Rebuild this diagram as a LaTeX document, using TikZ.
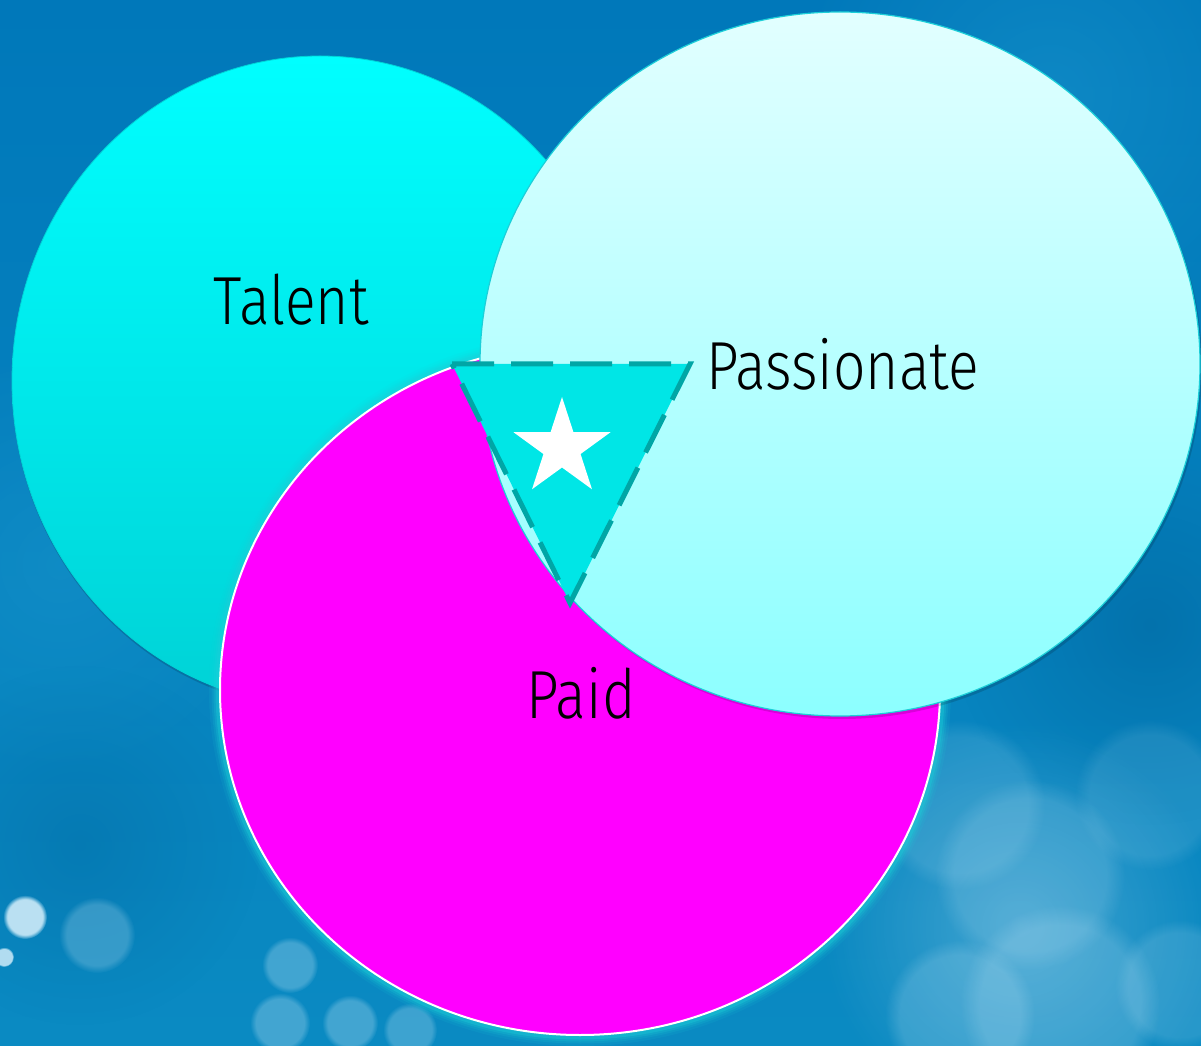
\documentclass[tikz,border=0pt]{standalone}
\usepackage{fontspec}
\setmainfont{Fira Sans Light}[FakeStretch=0.84]
\usetikzlibrary{shapes.geometric,calc,fadings}
\definecolor{bgtop}{HTML}{0078BA}
\definecolor{bgbot}{HTML}{0A8AC2}
\definecolor{bglight}{HTML}{1E9AD0}
\definecolor{bgdark}{HTML}{005E96}
\definecolor{talenttop}{HTML}{00FFFF}
\definecolor{talentbot}{HTML}{00D2D6}
\definecolor{passtop}{HTML}{E2FFFF}
\definecolor{passbot}{HTML}{8CFFFF}
\definecolor{paid}{HTML}{FF00FF}
\definecolor{tri}{HTML}{00E6E6}
\definecolor{tridash}{HTML}{00A6A6}
\definecolor{rim}{HTML}{1CCFD8}
\definecolor{bokeh}{HTML}{C4E6F6}
\tikzfading[name=softdisc, inner color=transparent!0, outer color=transparent!100]
\tikzset{
  x=1pt, y=1pt,
  disc/.style={ellipse, inner sep=0pt, outer sep=0pt},
  label text/.style={font=\fontsize{68}{70}\selectfont, text=black, inner sep=0pt},
  blob/.style={fill=bokeh, draw=none, path fading=circle with fuzzy edge 20 percent},
  haze/.style={draw=none, path fading=softdisc},
}
\begin{document}
\begin{tikzpicture}
  % background
  \useasboundingbox (0,0) rectangle (1201,1045);
  \shade[top color=bgtop, bottom color=bgbot] (0,0) rectangle (1201,1045);
  \fill[haze, bglight, opacity=0.45] (1050,950) circle (260);
  \fill[haze, bglight, opacity=0.40] (60,480) circle (220);
  \fill[haze, bgdark, opacity=0.45] (1150,420) circle (200);
  \fill[haze, bgdark, opacity=0.30] (80,200) circle (180);
  \fill[haze, bokeh, opacity=0.30] (1020,120) circle (200);
  % bokeh lights
  \fill[blob, opacity=0.95] (25,128) circle (22);
  \fill[blob, opacity=0.9] (4,88) circle (10);
  \fill[blob, opacity=0.25] (97,110) circle (38);
  \fill[blob, opacity=0.30] (290,80) circle (28);
  \fill[blob, opacity=0.30] (280,22) circle (30);
  \fill[blob, opacity=0.30] (350,22) circle (28);
  \fill[blob, opacity=0.28] (410,15) circle (27);
  \fill[blob, opacity=0.16] (1030,170) circle (95);
  \fill[blob, opacity=0.14] (960,240) circle (85);
  \fill[blob, opacity=0.20] (1060,40) circle (100);
  \fill[blob, opacity=0.20] (960,30) circle (75);
  \fill[blob, opacity=0.12] (1150,250) circle (75);
  \fill[blob, opacity=0.16] (1180,60) circle (65);

  % Talent
  \fill[black, opacity=0.15] (321,662) ellipse [x radius=309, y radius=326];
  \node[disc, minimum width=616, minimum height=650,
        top color=talenttop, bottom color=talentbot, draw=talentbot, line width=0.8]
        (talent) at (320,664) {};

  % Paid with soft rim
  \foreach \w/\o in {18/0.10, 13/0.15, 9/0.22, 5/0.35}
    \draw[rim, line width=\w, opacity=\o] (580,355) ellipse [x radius=362, y radius=347];
  \node[disc, minimum width=720, minimum height=690, fill=paid, draw=white, line width=2]
        (paid) at (580,355) {};

  % Passionate
  \fill[black, opacity=0.15] (842,678) ellipse [x radius=360, y radius=352];
  \node[disc, minimum width=720, minimum height=704,
        top color=passtop, bottom color=passbot, draw=rim, line width=1.2]
        (passionate) at (840,681) {};

  % sweet spot
  \coordinate (ta) at (452,681);
  \coordinate (tb) at (690,681);
  \coordinate (tc) at (570,442);
  \draw[fill=tri, draw=tridash, line width=5, dash pattern=on 42 off 17]
        (ta) -- (tb) -- (tc) -- cycle;
  \coordinate (star) at (562,597);
  \fill[white] ($(star)+(90:51)$)
     \foreach \k in {1,...,9} {
       -- ($(star)+({90+36*\k}:{ifthenelse(mod(\k,2)==1,19.5,51)})$)
     } -- cycle;

  % labels
  \node[label text, anchor=base] (ltalent) at (291,720) {Talent};
  \node[label text, anchor=base west] (lpass) at (706,655) {Passionate};
  \node[label text, anchor=base] (lpaid) at (581,327) {Paid};
\end{tikzpicture}
\end{document}
